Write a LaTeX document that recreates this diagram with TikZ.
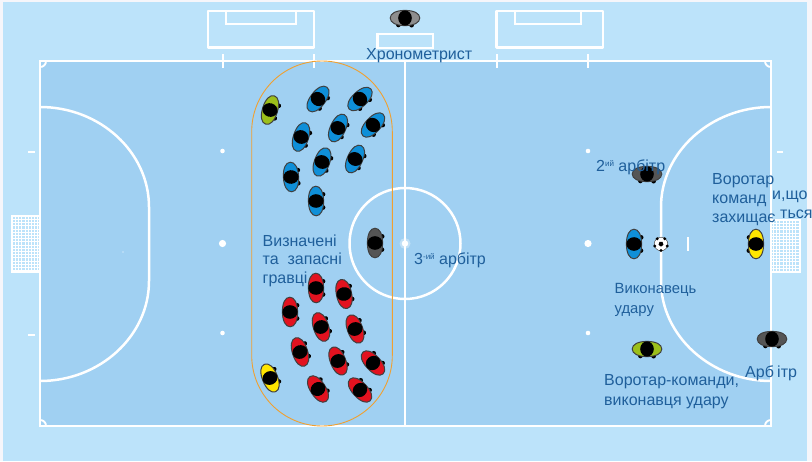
\documentclass[tikz,border=0pt]{standalone}
\usepackage{fontspec}
\setmainfont{Liberation Sans}
\definecolor{outer}{HTML}{F6F6FA}
\definecolor{apron}{HTML}{BCE3FA}
\definecolor{pitch}{HTML}{A0D0F2}
\definecolor{inkblue}{HTML}{1F5F9B}
\definecolor{orangeline}{HTML}{F0A030}
\definecolor{pblue}{HTML}{0F8FD8}
\definecolor{pgreen}{HTML}{9CBF1A}
\definecolor{pred}{HTML}{E2121F}
\definecolor{pyellow}{HTML}{FFE600}
\definecolor{pdark}{HTML}{555555}
\definecolor{pgrey}{HTML}{8E8E8E}
\tikzset{
  mark line/.style={draw=white,line width=2.5pt},
  thin mark/.style={draw=white,line width=1.9pt},
  spot/.style={fill=white,draw=none},
  netline/.style={draw=white,line width=.55pt},
  lbl/.style={text=inkblue,font=\fontsize{16}{18}\selectfont,inner sep=0pt,anchor=base west},
  small lbl/.style={lbl,font=\fontsize{14.8}{17}\selectfont},
  body/.style={draw=black!75,line width=1pt},
}
\newcommand{\player}[4]{%
  \begin{scope}[shift={(#1,#2)},rotate=#3]
    \fill[black] (7.2,-6.6) circle (2.3) (7.0,6.6) circle (2.3);
    \draw[body,fill=#4] (0,-14.8) .. controls (4.6,-14.8) and (7.6,-9) .. (7.6,0) .. controls (7.6,9) and (4.6,14.8) .. (0,14.8) .. controls (-4.6,14.8) and (-7.6,9) .. (-7.6,0) .. controls (-7.6,-9) and (-4.6,-14.8) .. (0,-14.8) -- cycle;
    \fill[black] (0,0) ellipse [x radius=7.6,y radius=6.8];
  \end{scope}}
\begin{document}
\begin{tikzpicture}[x=1pt,y=-1pt]
\useasboundingbox (0,0) rectangle (812,461);
\fill[outer] (0,0) rectangle (812,461);
\fill[apron] (3,2) rectangle (807,461);
\fill[pitch] (40,61) rectangle (771,426);
% nets
\foreach \v in {15.2,18.4,...,38} \draw[netline] (\v,216) -- (\v,272);
\foreach \v in {219.2,222.4,...,271} \draw[netline] (12,\v) -- (40,\v);
\draw[thin mark] (40,216) -- (12,216) -- (12,272) -- (40,272);
\foreach \v in {773.2,776.4,...,798} \draw[netline] (\v,220) -- (\v,272);
\foreach \v in {223.2,226.4,...,271} \draw[netline] (771,\v) -- (800,\v);
\draw[thin mark] (771,220) -- (800,220) -- (800,272) -- (771,272);
% pitch markings
\draw[mark line] (40,61) rectangle (771,426);
\draw[mark line] (405,61) -- (405,426);
\draw[mark line] (405,243.5) circle (55.5);
\fill[white,opacity=.35] (405,243.5) circle (5.5);
\fill[spot] (405,243.5) circle (3.2);
\draw[mark line] (40,107) .. controls (100,107) and (149,152) .. (149,207) -- (149,281) .. controls (149,336) and (100,381) .. (40,381);
\draw[mark line] (771,107) .. controls (711,107) and (661,152) .. (661,207) -- (661,281) .. controls (661,336) and (711,381) .. (771,381);
% corners
\draw[thin mark] (46,61) .. controls (46,64.5) and (43.5,67) .. (40,67);
\draw[thin mark] (765,61) .. controls (765,64.5) and (767.5,67) .. (771,67);
\draw[thin mark] (46,426) .. controls (46,422.5) and (43.5,420) .. (40,420);
\draw[thin mark] (765,426) .. controls (765,422.5) and (767.5,420) .. (771,420);
% goals and table
\draw[mark line,line join=round] (208,11) rectangle (314,47.5);
\draw[mark line] (226,11) rectangle (296,24);
\draw[mark line,line join=round] (496.5,11) rectangle (603,47.5);
\draw[mark line] (515,11) rectangle (581,24);
\draw[mark line] (377.5,34) rectangle (433,48);
% ticks
\foreach \v in {222.7,313.7,496.7,587.7} \draw[thin mark] (\v,54) -- (\v,68);
\draw[thin mark] (688,237) -- (688,251);
\foreach \v in {152,335} \draw[mark line] (28,\v) -- (35,\v);
\draw[mark line] (777,152) -- (783,152);
% spots
\foreach \a/\b/\r in {222.5/151/2.3,222.5/243.5/3.6,222.5/333/2.3,588/151/2.3,588/243.5/3.6,588/333/2.3,123/252/.7}
  \fill[spot] (\a,\b) circle (\r);
% team bench
\draw[orangeline,line width=.9pt] (251.7,131.5) .. controls (251.7,92.7) and (283.2,61) .. (322,61) .. controls (360.8,61) and (392.3,92.7) .. (392.3,131.5) -- (392.3,355.5) .. controls (392.3,394.3) and (360.8,426) .. (322,426) .. controls (283.2,426) and (251.7,394.3) .. (251.7,355.5) -- cycle;
% label under the players
\node[lbl] (t1) at (262.5,246) {Визначені};
\node[lbl] (t2) at (262.5,264.5) {та\ \ запасні};
\node[lbl] (t3) at (262.5,283) {гравці};
% substitutes, blue team
\player{270}{110}{-17}{pgreen}
\player{318}{99}{-37}{pblue}
\player{360}{99}{-47}{pblue}
\player{301}{137}{-18}{pblue}
\player{338}{128}{-25}{pblue}
\player{373}{125}{-43}{pblue}
\player{322}{162}{-20}{pblue}
\player{355}{159}{-25}{pblue}
\player{291}{177}{3}{pblue}
\player{316}{201}{1}{pblue}
% substitutes, red team
\player{316}{288}{1}{pred}
\player{344}{294}{12}{pred}
\player{290}{312}{1}{pred}
\player{321}{327}{18}{pred}
\player{355}{329}{20}{pred}
\player{300}{352}{18}{pred}
\player{338}{361}{22}{pred}
\player{373}{363}{43}{pred}
\player{318}{389}{33}{pred}
\player{360}{390}{43}{pred}
\player{270}{378}{22}{pyellow}
% officials and players on the pitch
\player{375}{243}{0}{pdark}
\player{405}{18}{-90}{pgrey}
\player{647}{174}{-90}{pdark}
\player{772}{339}{-90}{pdark}
\player{647}{349}{-90}{pgreen}
\player{634}{244}{0}{pblue}
\player{756}{244}{180}{pyellow}
% ball
\begin{scope}[shift={(661,244)}]
  \draw[black!70,fill=white,line width=.5pt] (0,0) circle (6.8);
  \fill[black] (90:2.6) -- (162:2.6) -- (234:2.6) -- (306:2.6) -- (18:2.6) -- cycle;
  \foreach \q in {18,90,162,234,306} \fill[black] (\q:6.5) circle (1.6);
\end{scope}
% labels
\node[lbl] (timer) at (366,59) {Хронометрист};
\node[lbl] (third) at (414,264) {3\raisebox{5pt}{\fontsize{8}{9}\selectfont -ий} арбітр};
\node[lbl] (second) at (596,171) {2\raisebox{5pt}{\fontsize{8}{9}\selectfont ий} арбітр};
\node[lbl] (g1) at (712,184) {Воротар};
\node[lbl] (g2) at (712,203) {команд};
\node[lbl] (g3) at (712,222) {захищає};
\node[lbl] (g4) at (772,199) {и,що};
\node[lbl] (g5) at (780,218) {ться};
\node[small lbl] (k1) at (614.5,293) {Виконавець};
\node[small lbl] (k2) at (614.5,313) {удару};
\node[lbl] (v1) at (604,385) {Воротар-команди,};
\node[lbl] (v2) at (604,405) {виконавця удару};
\node[lbl] (a1) at (745,377) {Арб};
\node[lbl] (a2) at (777,377) {ітр};
\end{tikzpicture}
\end{document}
